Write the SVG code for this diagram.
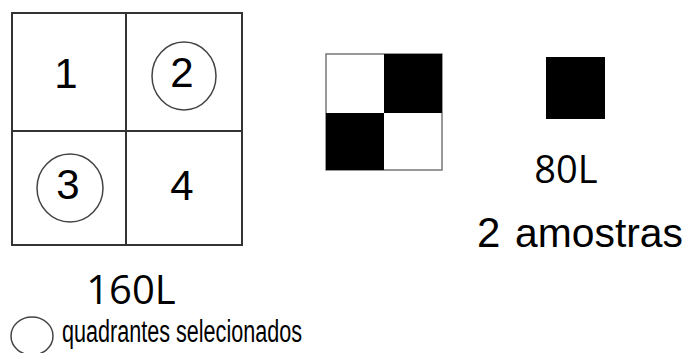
<svg xmlns="http://www.w3.org/2000/svg" width="689" height="353" viewBox="0 0 689 353">
<style>
.t{font-family:"Liberation Sans",Arial,sans-serif;fill:#000}
.o{font-family:"Open Sans","Noto Sans",sans-serif;fill:#000}
.ln{stroke:#333;stroke-width:2;fill:none}
.c{stroke:#444;stroke-width:1.5;fill:none}
</style>
<rect width="689" height="353" fill="#fff"/>
<g id="grid">
<rect class="ln" x="12" y="13" width="230" height="232"/>
<line class="ln" x1="126" y1="13" x2="126" y2="245"/>
<line class="ln" x1="12" y1="131" x2="242" y2="131"/>
<text class="t" x="66" y="88" font-size="42" text-anchor="middle">1</text>
<text class="t" x="182" y="87" font-size="42" text-anchor="middle">2</text>
<ellipse class="c" cx="184" cy="76" rx="32" ry="34"/>
<text class="t" x="68" y="199" font-size="42" text-anchor="middle">3</text>
<ellipse class="c" cx="70" cy="188" rx="33" ry="34"/>
<text class="t" x="182" y="200" font-size="42" text-anchor="middle">4</text>
</g>
<g id="checker">
<rect x="326" y="54" width="116" height="116" fill="#fff" stroke="#777" stroke-width="1.5"/>
<rect x="384" y="54" width="58" height="59" fill="#000"/>
<rect x="326" y="113" width="58" height="57" fill="#000"/>
</g>
<g id="sample">
<rect x="546" y="57" width="59" height="62" fill="#000"/>
</g>
<text class="o" x="566" y="183" font-size="38" text-anchor="middle">80L</text>
<text class="t" x="477" y="247" font-size="42">2</text>
<text class="t" x="515" y="247" font-size="41" textLength="168" lengthAdjust="spacingAndGlyphs">amostras</text>
<text class="o" x="131" y="304" font-size="40" text-anchor="middle">160L</text>
<g id="legend">
<ellipse class="c" cx="32" cy="336" rx="21" ry="19"/>
<text class="t" x="62" y="342" font-size="31" textLength="240" lengthAdjust="spacingAndGlyphs">quadrantes selecionados</text>
</g>
</svg>
